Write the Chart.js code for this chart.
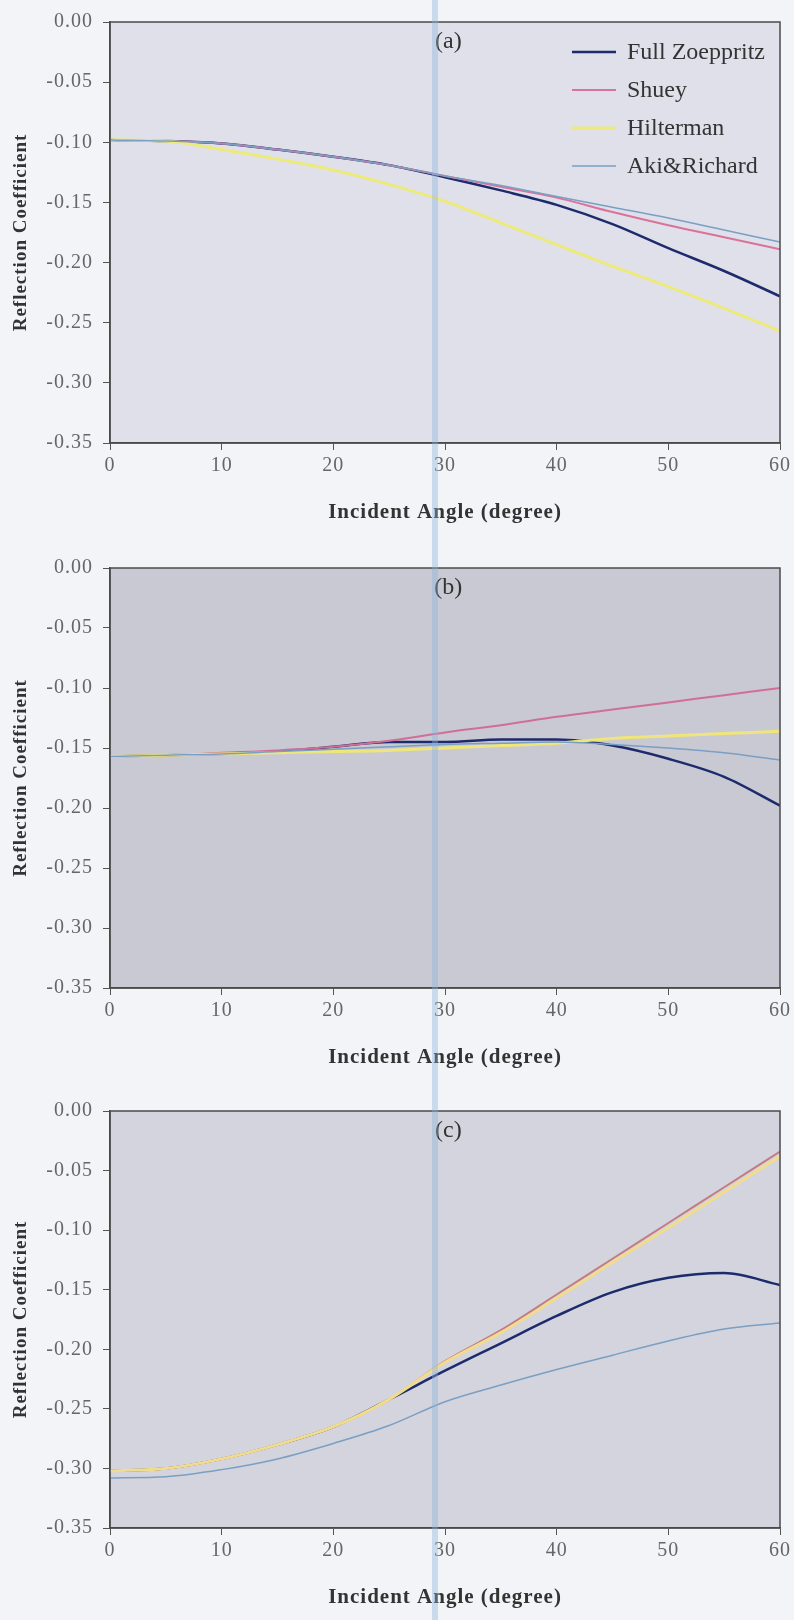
<!DOCTYPE html>
<html>
<head>
<meta charset="utf-8">
<script src="https://cdn.jsdelivr.net/npm/chart.js@4.4.1/dist/chart.umd.min.js"></script>
<style>
  body { margin: 0; background: #f3f4f8; }
  #page { position: relative; width: 794px; height: 1620px; overflow: hidden; }
  .panel { position: absolute; left: 0; width: 794px; }
  #streak { position: absolute; left: 432px; top: 0; width: 6px; height: 1620px;
            background: rgba(140, 180, 220, 0.4); pointer-events: none; }
</style>
</head>
<body>
<div id="page">
  <div class="panel" id="panelA"><canvas id="chartA"></canvas></div>
  <div class="panel" id="panelB"><canvas id="chartB"></canvas></div>
  <div class="panel" id="panelC"><canvas id="chartC"></canvas></div>
  <div id="streak"></div>
</div>
<script>
// incident angle (degree)
const angles = [0, 5, 10, 15, 20, 25, 30, 35, 40, 45, 50, 55, 60]
const seriesNames = ['Full Zoeppritz', 'Shuey', 'Hilterman', 'Aki&Richard']
const panelNames = ['(a)', '(b)', '(c)']

// (a)
const aZoeppritz = [-0.098, -0.099, -0.101, -0.106, -0.112, -0.119, -0.129, -0.140, -0.152, -0.168, -0.188, -0.207, -0.228]
const aShuey     = [-0.098, -0.099, -0.101, -0.106, -0.112, -0.119, -0.128, -0.137, -0.146, -0.158, -0.169, -0.179, -0.189]
const aHilterman = [-0.098, -0.099, -0.106, -0.114, -0.123, -0.135, -0.149, -0.167, -0.185, -0.203, -0.220, -0.238, -0.257]
const aAki       = [-0.098, -0.099, -0.101, -0.106, -0.112, -0.119, -0.128, -0.136, -0.145, -0.154, -0.163, -0.173, -0.183]

// (b)
const bZoeppritz = [-0.157, -0.156, -0.155, -0.153, -0.149, -0.145, -0.145, -0.143, -0.143, -0.148, -0.159, -0.174, -0.198]
const bShuey     = [-0.157, -0.156, -0.154, -0.152, -0.149, -0.144, -0.137, -0.131, -0.124, -0.118, -0.112, -0.106, -0.100]
const bHilterman = [-0.157, -0.156, -0.155, -0.154, -0.153, -0.152, -0.150, -0.148, -0.146, -0.142, -0.140, -0.138, -0.136]
const bAki       = [-0.157, -0.156, -0.155, -0.153, -0.151, -0.149, -0.147, -0.146, -0.145, -0.147, -0.150, -0.154, -0.160]

// (c)
const cZoeppritz = [-0.302, -0.300, -0.292, -0.280, -0.265, -0.242, -0.218, -0.195, -0.172, -0.152, -0.140, -0.136, -0.146]
const cShuey     = [-0.302, -0.300, -0.292, -0.280, -0.265, -0.242, -0.210, -0.184, -0.154, -0.124, -0.094, -0.064, -0.034]
const cHilterman = [-0.302, -0.300, -0.292, -0.280, -0.265, -0.242, -0.211, -0.186, -0.157, -0.127, -0.098, -0.068, -0.038]
const cAki       = [-0.308, -0.307, -0.301, -0.292, -0.279, -0.264, -0.244, -0.230, -0.217, -0.205, -0.193, -0.183, -0.178]

const yMin = -0.35
const yMax = 0
const yStep = 0.05

// page layout (pixels from top of page)
const layouts = [
  { el: 'panelA', top: 0,    height: 535, plotTop: 19,   plotBottom: 443,  titleY: 513,  bg: '#dfe0e9',
    legend: { x0: 572, x1: 616, tx: 627, y: 52,   dy: 38 },   shuey: '#d9739b', hilt: '#ecea7a' },
  { el: 'panelB', top: 540,  height: 540, plotTop: 568,  plotBottom: 988,  titleY: 1058, bg: '#c9c9d3',
    legend: { x0: 574, x1: 616, tx: 627, y: 865,  dy: 34.5 }, shuey: '#d06f95', hilt: '#efe57a' },
  { el: 'panelC', top: 1085, height: 535, plotTop: 1111, plotBottom: 1528, titleY: 1598, bg: '#d3d4dd',
    legend: { x0: 561, x1: 607, tx: 614, y: 1427, dy: 27.3 }, shuey: '#c47c82', hilt: '#f1dc8e' }
]

const serif = "'Liberation Serif', 'Times New Roman', serif"

const framePlugin = {
  id: 'frame',
  beforeDraw(chart, args, opts) {
    const { ctx, chartArea: a } = chart
    ctx.save()
    ctx.fillStyle = opts.bg
    ctx.fillRect(a.left, a.top, a.right - a.left, a.bottom - a.top)
    ctx.restore()
    ctx.letterSpacing = '1px'
  },
  afterDatasetsDraw(chart, args, opts) {
    const { ctx, chartArea: a } = chart
    ctx.save()
    ctx.strokeStyle = '#4a4a4a'
    ctx.lineWidth = 1.5
    ctx.strokeRect(a.left, a.top, a.right - a.left, a.bottom - a.top)

    ctx.letterSpacing = '0px'
    ctx.fillStyle = '#333'
    ctx.font = '24px ' + serif
    ctx.textAlign = 'center'
    ctx.textBaseline = 'middle'
    ctx.fillText(opts.name, chart.scales.x.getPixelForValue(30.3), a.top + 20)

    const lg = opts.legend
    ctx.textAlign = 'left'
    chart.data.datasets.forEach((ds, i) => {
      const y = lg.y + i * lg.dy
      ctx.strokeStyle = ds.borderColor
      ctx.lineWidth = ds.borderWidth
      ctx.beginPath()
      ctx.moveTo(lg.x0, y)
      ctx.lineTo(lg.x1, y)
      ctx.stroke()
      ctx.fillStyle = '#333'
      ctx.fillText(ds.label, lg.tx, y + 1)
    })
    ctx.restore()
  }
}

function pairs(vals) {
  return angles.map((a, i) => ({ x: a, y: vals[i] }))
}

function makeChart(id, L, name, series) {
  const panel = document.getElementById(L.el)
  panel.style.top = L.top + 'px'
  panel.style.height = L.height + 'px'

  const colors = ['#1d2a6b', L.shuey, L.hilt, '#7a9fc4']
  const widths = [2.5, 2, 3, 1.5]
  const xBox = L.top + L.height - L.plotBottom
  const titleOffset = L.top + L.height - L.titleY

  return new Chart(document.getElementById(id), {
    type: 'line',
    data: {
      datasets: series.map((s, i) => ({
        label: seriesNames[i],
        data: pairs(s),
        borderColor: colors[i],
        borderWidth: widths[i],
        order: series.length - 1 - i, // later series painted on top, like the original sheet
        pointRadius: 0,
        fill: false,
        cubicInterpolationMode: 'monotone'
      }))
    },
    options: {
      responsive: true,
      maintainAspectRatio: false,
      animation: false,
      layout: { padding: { left: 0, right: 13, top: L.plotTop - L.top, bottom: 0 } },
      plugins: {
        legend: { display: false },
        tooltip: { enabled: false },
        frame: { bg: L.bg, legend: L.legend, name: name }
      },
      scales: {
        x: {
          type: 'linear',
          min: 0,
          max: 60,
          ticks: { stepSize: 10, color: '#666', padding: 4, font: { family: serif, size: 20 } },
          grid: { drawOnChartArea: false, drawTicks: true, tickLength: 7, color: '#555' },
          border: { display: true, color: '#4a4a4a', width: 1.5 },
          title: {
            display: true, text: 'Incident Angle (degree)', color: '#333',
            font: { family: serif, size: 21, weight: 'bold' },
            padding: { top: 0, bottom: titleOffset - 12.6 }
          },
          afterFit(scale) { scale.height = xBox }
        },
        y: {
          min: yMin,
          max: yMax,
          ticks: {
            stepSize: yStep, color: '#666', padding: 10, font: { family: serif, size: 20 },
            callback: v => v.toFixed(2)
          },
          grid: { drawOnChartArea: false, drawTicks: true, tickLength: 7, color: '#555' },
          border: { display: true, color: '#4a4a4a', width: 1.5 },
          title: {
            display: true, text: 'Reflection Coefficient', color: '#333',
            font: { family: serif, size: 19, weight: 'bold' },
            padding: { top: 10, bottom: 0 }
          },
          afterFit(scale) { scale.width = 110 }
        }
      }
    },
    plugins: [framePlugin]
  })
}

const chartA = makeChart('chartA', layouts[0], panelNames[0], [aZoeppritz, aShuey, aHilterman, aAki])
const chartB = makeChart('chartB', layouts[1], panelNames[1], [bZoeppritz, bShuey, bHilterman, bAki])
const chartC = makeChart('chartC', layouts[2], panelNames[2], [cZoeppritz, cShuey, cHilterman, cAki])
</script>
</body>
</html>
